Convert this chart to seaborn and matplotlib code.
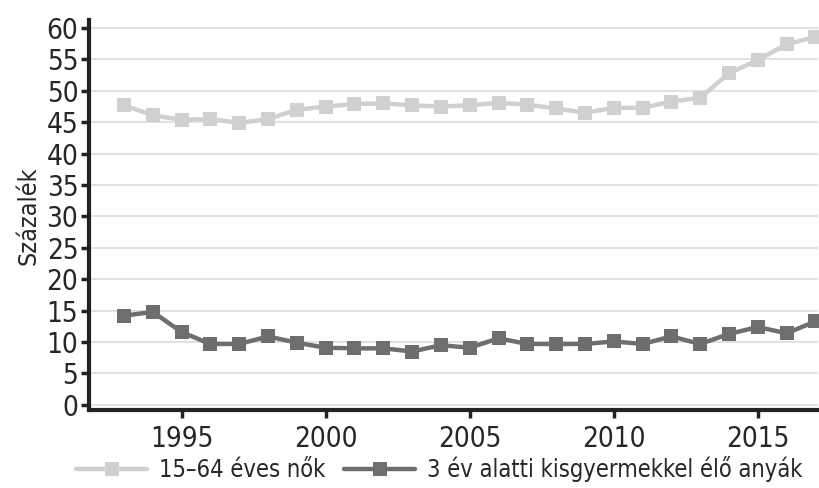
import matplotlib
matplotlib.use("Agg")
import matplotlib.pyplot as plt
import seaborn as sns
import pandas as pd

years = list(range(1993, 2018))
women_15_64 = [47.7, 46.1, 45.4, 45.5, 44.9, 45.5, 47.0, 47.5, 47.9, 48.0, 47.7, 47.5,
               47.7, 48.1, 47.8, 47.2, 46.5, 47.3, 47.3, 48.3, 48.9, 52.8, 54.9, 57.4, 58.6]
mothers_u3 = [14.2, 14.8, 11.6, 9.7, 9.7, 10.9, 9.9, 9.1, 9.0, 9.0, 8.5, 9.5,
              9.1, 10.6, 9.7, 9.7, 9.7, 10.1, 9.7, 10.9, 9.7, 11.3, 12.4, 11.4, 13.3]
labels = ["15–64 éves nők", "3 év alatti kisgyermekkel élő anyák"]
colors = ["#d0d0d0", "#6e6e6e"]

df = pd.DataFrame({
    "year": years * 2,
    "value": women_15_64 + mothers_u3,
    "series": [labels[0]] * len(years) + [labels[1]] * len(years),
})

sns.set_style("ticks")
plt.rcParams['font.family'] = ['DejaVu Sans']
plt.rcParams['font.stretch'] = 'condensed'

fig, ax = plt.subplots(figsize=(8.2, 4.88), dpi=100)
fig.subplots_adjust(left=0.109, right=0.998, top=0.958, bottom=0.16)

sns.lineplot(data=df, x="year", y="value", hue="series", hue_order=labels,
             palette=colors, style="series", markers=["s", "s"], dashes=False,
             linewidth=3.2, markersize=10, markeredgewidth=0, ax=ax)

ax.set_xlim(1991.8, 2017.1)
ax.set_ylim(-0.8, 61.2)
ax.set_yticks(range(0, 61, 5))
ax.set_xticks([1995, 2000, 2005, 2010, 2015])
ax.yaxis.grid(True, color="#dcdcdc", linewidth=1.2)
ax.set_axisbelow(True)
ax.set_xlabel("")
ax.set_ylabel("Százalék", fontsize=18, labelpad=4)
ax.tick_params(labelsize=20, width=2.5, length=6, color="#222222", pad=2)
ax.tick_params(axis="x", pad=5)
for side in ["left", "bottom"]:
    ax.spines[side].set_linewidth(3)
    ax.spines[side].set_color("#222222")
sns.despine(ax=ax)

ax.legend(loc="upper center", bbox_to_anchor=(0.48, -0.118), ncol=2, frameon=False,
          fontsize=17, handlelength=3.0, columnspacing=0.8, handletextpad=0.5,
          borderaxespad=0, borderpad=0)

fig.savefig("out.png", dpi=100)
